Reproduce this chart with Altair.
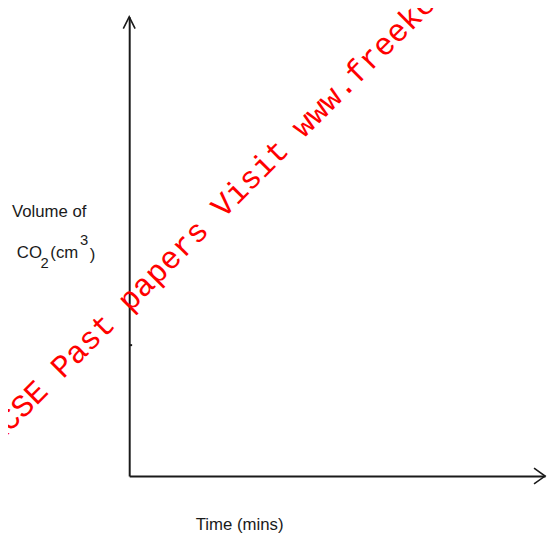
import altair as alt
import pandas as pd

# ---- data ----
x_domain = [0, 10]
y_domain = [0, 10]
y_tick_values = [2.85]
x_arrow = [10]
y_arrow = [10]
x_title = "Time (mins)"
y_title_line1 = "Volume of"
y_title_parts = ["CO", "2", "(cm", "3", ")"]
watermark = "KCSE Past papers Visit www.freekcsepastpapers.com"

LABEL_FONT = "Liberation Sans, Arial, sans-serif"
INK = "#1a1a1a"

xs = alt.Scale(domain=x_domain, nice=False, zero=True)
ys = alt.Scale(domain=y_domain, nice=False, zero=True)

axis_x = alt.Axis(domain=True, domainColor=INK, domainWidth=2, ticks=False, labels=False,
                  grid=False, title=x_title, titleFont=LABEL_FONT, titleFontSize=17,
                  titleFontWeight="normal", titleColor=INK, titleAnchor="start",
                  titleAlign="left", titleX=67, titleY=54, titleBaseline="alphabetic")
axis_y = alt.Axis(domain=True, domainColor=INK, domainWidth=2, ticks=False, labels=False,
                  grid=False, title=None)

arrow_x_df = pd.DataFrame({"x": x_arrow, "y": [y_domain[0]]})
arrow_y_df = pd.DataFrame({"x": [x_domain[0]], "y": y_arrow})
tick_df = pd.DataFrame({"x": [x_domain[0]], "x2": [0.07], "y": y_tick_values})

base_axes = alt.Chart(arrow_x_df).mark_point(opacity=0).encode(
    x=alt.X("x:Q", scale=xs, axis=axis_x),
    y=alt.Y("y:Q", scale=ys, axis=axis_y),
)

arrow_right = alt.Chart(arrow_x_df).mark_point(
    shape="M-1.4,-1L0,0L-1.4,1", filled=False, stroke=INK, strokeWidth=1.6, size=256, opacity=1
).encode(x=alt.X("x:Q", scale=xs), y=alt.Y("y:Q", scale=ys))

arrow_up = alt.Chart(arrow_y_df).mark_point(
    shape="M-1,2L0,0L1,2", filled=False, stroke=INK, strokeWidth=1.6, size=144, opacity=1
).encode(x=alt.X("x:Q", scale=xs), y=alt.Y("y:Q", scale=ys))

ytick = alt.Chart(tick_df).mark_rule(color=INK, strokeWidth=2).encode(
    x=alt.X("x:Q", scale=xs), x2="x2:Q", y=alt.Y("y:Q", scale=ys)
)

def label(txt, x, y, size=17):
    return alt.Chart(pd.DataFrame({"t": [txt]})).mark_text(
        align="left", baseline="alphabetic", font=LABEL_FONT, fontSize=size, color=INK
    ).encode(text="t:N", x=alt.value(x), y=alt.value(y))

labels = [
    label(y_title_line1, -119, 203),
    label(y_title_parts[0], -114, 245),
    label(y_title_parts[1], -90, 255, 15),
    label(y_title_parts[2], -80, 245),
    label(y_title_parts[3], -50, 232, 15),
    label(y_title_parts[4], -40, 247),
]

wm = alt.Chart(pd.DataFrame({"t": [watermark]})).mark_text(
    align="left", baseline="alphabetic", font="Liberation Mono, Courier New, monospace",
    fontSize=32, color="#ff0000", angle=315
).encode(text="t:N", x=alt.value(-135), y=alt.value(436))

chart = alt.layer(base_axes, ytick, arrow_right, arrow_up, *labels, wm).properties(
    width=422, height=466,
    padding={"left": 123, "top": 5, "right": 5, "bottom": 61},
    autosize=alt.AutoSizeParams(type="none"),
    background="white",
).configure_view(stroke=None)

chart.save("out.html", embed_options={"renderer": "svg", "actions": False})
